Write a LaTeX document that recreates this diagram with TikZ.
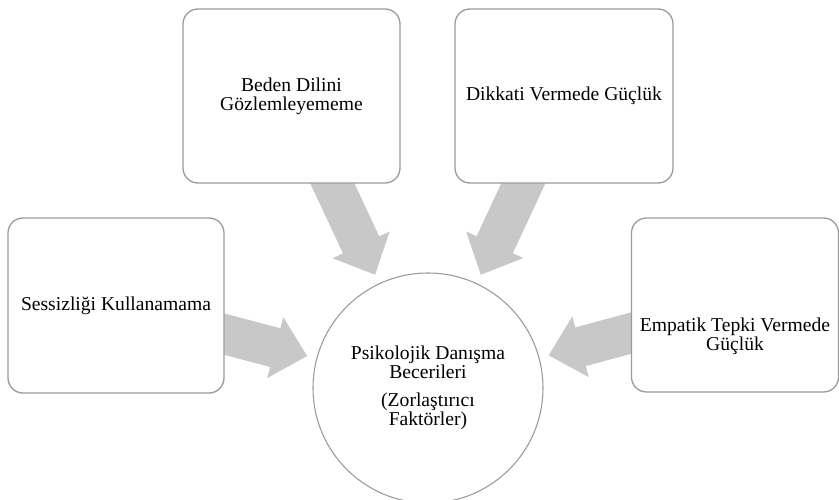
\documentclass[tikz,border=0pt]{standalone}
\usepackage{fontspec}
\setmainfont{Liberation Serif}
\usetikzlibrary{calc}

\definecolor{edgegray}{HTML}{9C9C9C}
\definecolor{arrowgray}{HTML}{C8C8C8}
\definecolor{inkcol}{HTML}{000000}

\tikzset{
  factorbox/.style={draw=edgegray, line width=1.3pt, fill=white,
    rounded corners=15pt, inner sep=0pt},
  hubcircle/.style={circle, draw=edgegray, line width=1.1pt, fill=white,
    minimum size=230pt, inner sep=0pt},
  caption/.style={align=center, text=inkcol, inner sep=0pt,
    font=\fontsize{19.6}{19}\selectfont},
}

% Converging block arrow: shaft from the centre of node #1 to tip #2
\newcommand{\convergearrow}[3]{%
  \coordinate (#3-b) at ($(#2)!33pt!(#1.center)$);
  \fill[arrowgray]
    ($(#1.center)!20pt!90:(#2)$) --
    ($(#3-b)!20pt!90:(#2)$) --
    ($(#3-b)!31.5pt!90:(#2)$) --
    (#2) --
    ($(#3-b)!31.5pt!-90:(#2)$) --
    ($(#3-b)!20pt!-90:(#2)$) --
    ($(#1.center)!20pt!-90:(#2)$) -- cycle;
}

\begin{document}
\begin{tikzpicture}[x=1pt,y=-1pt]
  \clip (0,0) rectangle (839,500);
  \fill[white] (0,0) rectangle (839,500);

  % positions of the hub and the four factor boxes
  \coordinate (hubc) at (428,388);
  \coordinate (lc) at (116,305.5);
  \coordinate (tlc) at (291.5,96);
  \coordinate (trc) at (564,96);
  \coordinate (rc) at (735,305);

  % tips of the arrows, short of the hub circle
  \coordinate (tipL) at ($(hubc)!125pt!(lc)$);
  \coordinate (tipTL) at ($(hubc)!125pt!(tlc)$);
  \coordinate (tipTR) at ($(hubc)!125pt!(trc)$);
  \coordinate (tipR) at ($(hubc)!125pt!(rc)$);

  \convergearrow{lc}{tipL}{aL}
  \convergearrow{tlc}{tipTL}{aTL}
  \convergearrow{trc}{tipTR}{aTR}
  \convergearrow{rc}{tipR}{aR}

  % factor boxes
  \node[factorbox, minimum width=216pt, minimum height=175pt] (left) at (lc) {};
  \node[factorbox, minimum width=217pt, minimum height=174pt] (topleft) at (tlc) {};
  \node[factorbox, minimum width=218pt, minimum height=174pt] (topright) at (trc) {};
  \node[factorbox, minimum width=207pt, minimum height=174pt] (right) at (rc) {};

  \node[caption] (ltext) at (left.center) {Sessizliği Kullanamama};
  \node[caption] (tltext) at (topleft.center) {Beden Dilini\\Gözlemleyememe};
  \node[caption] (trtext) at (topright.center) {Dikkati Vermede Güçlük};
  \node[caption] (rtext) at ($(right.center)+(0,31)$) {Empatik Tepki Vermede\\Güçlük};

  % hub
  \node[hubcircle] (hub) at (hubc) {};
  \node[caption] (hubtext) at (hub.center)
    {Psikolojik Danışma\\Becerileri\\[9pt](Zorlaştırıcı\\Faktörler)};
\end{tikzpicture}
\end{document}
